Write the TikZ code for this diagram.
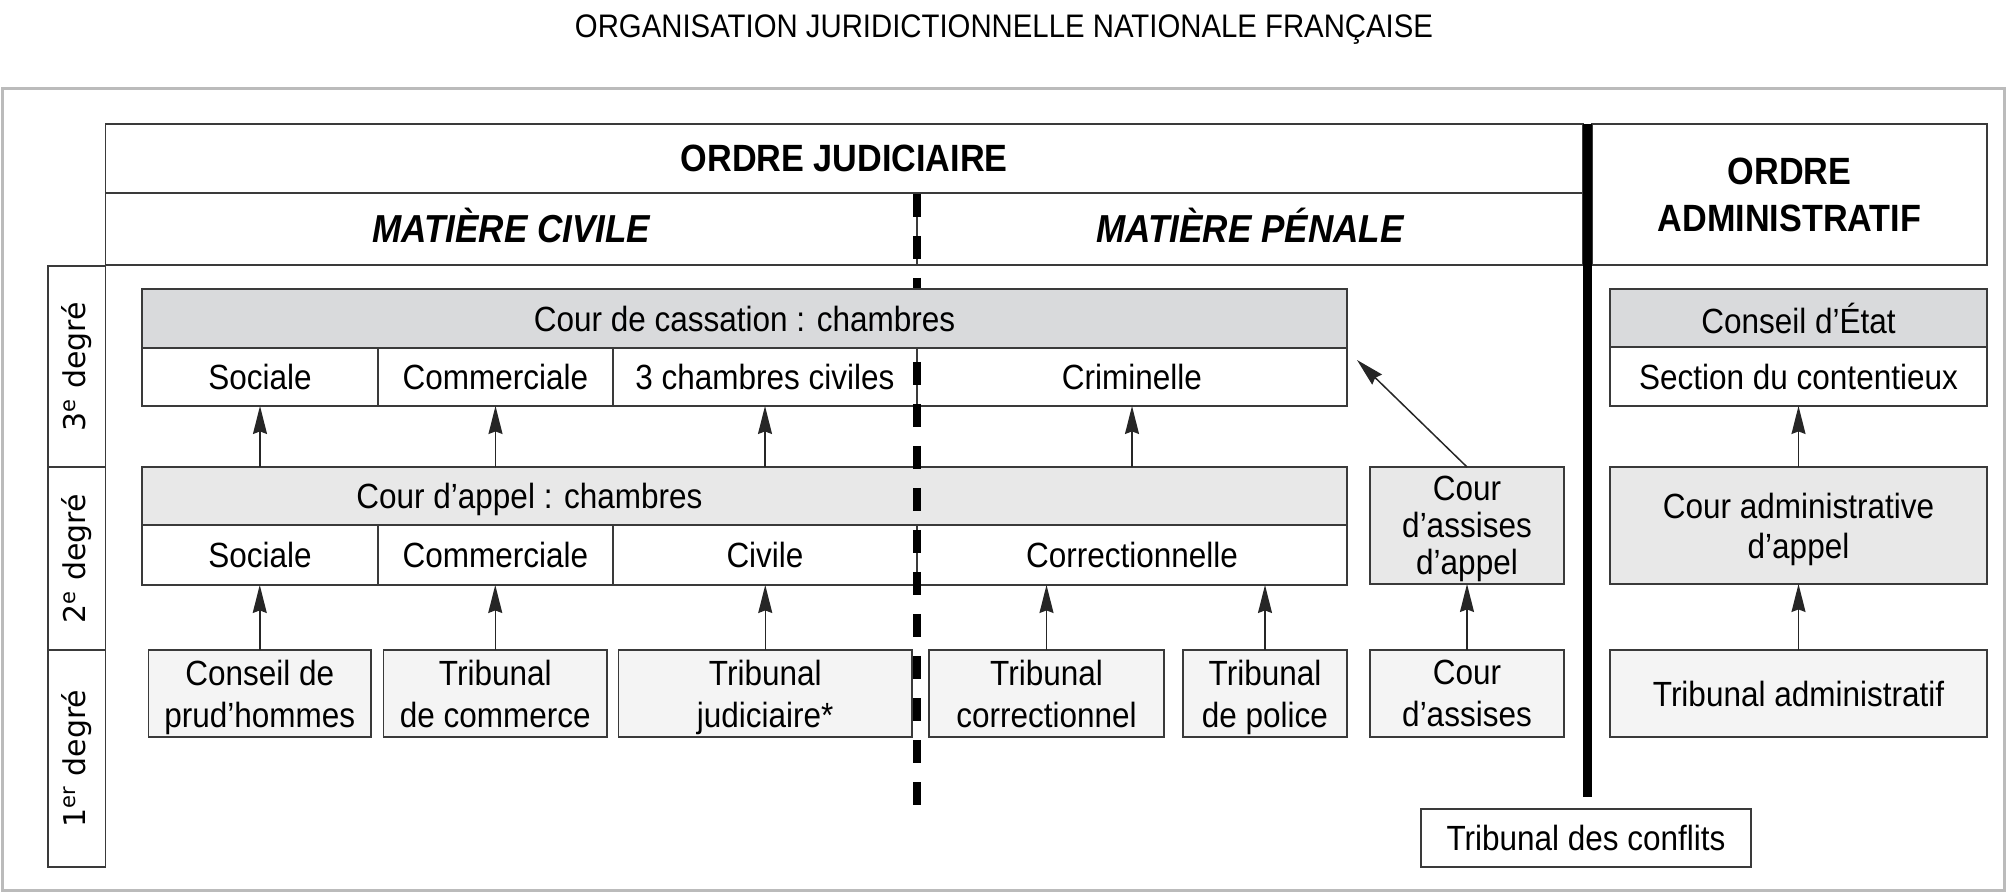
\documentclass[tikz,border=0pt]{standalone}
\usepackage{fontspec}
\setmainfont{Liberation Sans}[FakeStretch=0.9]
\newfontfamily\degfont{DejaVu Sans}
\usetikzlibrary{arrows.meta}
\definecolor{framecol}{HTML}{BBBBBB}
\definecolor{edgecol}{HTML}{3A3A3A}
\definecolor{gA}{HTML}{D9DADC}
\definecolor{gB}{HTML}{E8E8E8}
\definecolor{gC}{HTML}{F4F4F4}
\newcommand\bx[7]{\node[#6, minimum width={(#4-#2)*0.5pt}, minimum height={(#5-#3)*0.5pt}] (#1) at ({(#2+#4)/2},{(#3+#5)/2}) {#7};}
\begin{document}
\begin{tikzpicture}[x=0.5pt,y=-0.5pt,
  cell/.style={draw=edgecol, line width=0.7pt, inner sep=0pt, outer sep=0pt, align=center, text depth=0pt, font=\fontsize{17.5}{21}\selectfont},
  headA/.style={cell, fill=gA},
  headB/.style={cell, fill=gB},
  first/.style={cell, fill=gC},
  white/.style={cell, fill=white},
  hdr/.style={draw=edgecol, line width=0.7pt, inner sep=0pt, outer sep=0pt, align=center, font=\fontsize{19}{23.5}\selectfont\bfseries},
  hdri/.style={hdr, text height=14pt, text depth=0pt, font=\fontsize{19.5}{23.5}\selectfont\bfseries\itshape},
  deg/.style={draw=edgecol, line width=0.8pt, inner sep=0pt, outer sep=0pt},
  degtxt/.style={rotate=90, font=\degfont\fontsize{15}{17}\selectfont},
  lbl/.style={inner sep=0pt, text depth=0pt, font=\fontsize{17.5}{21}\selectfont},
  arr/.style={draw=black!85, line width=0.75pt, -{Stealth[length=14pt,width=7pt,inset=1.3pt]}},
]
\useasboundingbox (0,0) rectangle (2008,892);
\draw[framecol, line width=1.5pt] (2,89) rectangle (2004,890);

\node[font=\fontsize{16.3}{19}\selectfont] (title) at (1004,30) {ORGANISATION JURIDICTIONNELLE NATIONALE FRANÇAISE};

% headers
\bx{ojud}{105.6}{124}{1583}{193}{hdr}{ORDRE JUDICIAIRE}
\bx{civ}{105.6}{193}{917}{265}{hdri}{MATIÈRE CIVILE}
\bx{pen}{917}{193}{1583}{265}{hdri}{MATIÈRE PÉNALE}
\bx{oadm}{1592}{124}{1987}{265}{hdr}{ORDRE\\ADMINISTRATIF}

% degree column
\bx{d3}{48}{266}{105.6}{467}{deg}{}
\bx{d2}{48}{467}{105.6}{650}{deg}{}
\bx{d1}{48}{650}{105.6}{867}{deg}{}
\node[degtxt] (d3t) at (d3) {3\textsuperscript{e} degré};
\node[degtxt] (d2t) at (d2) {2\textsuperscript{e} degré};
\node[degtxt] (d1t) at (d1) {1\textsuperscript{er} degré};

% cells of Cour de cassation
\bx{cSoc}{142}{348}{378}{406}{white}{Sociale}
\bx{cCom}{378}{348}{613}{406}{white}{Commerciale}
\bx{cCiv}{613}{348}{917}{406}{white}{3 chambres civiles}
\bx{cCrim}{917}{348}{1347}{406}{white}{Criminelle}

% Cour d'appel
\bx{app}{142}{467}{1347}{525}{headB}{}
\node[lbl] (appTxt) at (529.5,496) {Cour d’appel : chambres};
\bx{aSoc}{142}{525}{378}{585}{white}{Sociale}
\bx{aCom}{378}{525}{613}{585}{white}{Commerciale}
\bx{aCiv}{613}{525}{917}{585}{white}{Civile}
\bx{aCor}{917}{525}{1347}{585}{white}{Correctionnelle}
\bx{assApp}{1370}{467}{1564}{584}{headB, font=\fontsize{17.5}{18.5}\selectfont}{Cour\\d’assises\\d’appel}

% Ordre administratif
\bx{ce}{1610}{289}{1987}{347}{headA}{Conseil d’État}
\bx{sec}{1610}{347}{1987}{406}{white}{Section du contentieux}
\bx{caa}{1610}{467}{1987}{584}{headB, font=\fontsize{17.5}{20}\selectfont}{Cour administrative\\d’appel}

% first degree
\bx{cph}{148.5}{650}{371}{737}{first}{Conseil de\\prud’hommes}
\bx{tc}{383.5}{650}{607}{737}{first}{Tribunal\\de commerce}
\bx{tj}{618.5}{650}{912}{737}{first}{Tribunal\\judiciaire*}
\bx{tcor}{929}{650}{1164}{737}{first}{Tribunal\\correctionnel}
\bx{tpol}{1183}{650}{1347}{737}{first}{Tribunal\\de police}
\bx{ass}{1370}{650}{1564}{737}{first}{Cour\\d’assises}
\bx{tadm}{1610}{650}{1987}{737}{first}{Tribunal administratif}

\bx{tconf}{1421}{809}{1751}{867}{white}{Tribunal des conflits}

% separators
\coordinate (dashTop) at (917,194);
\coordinate (dashBot) at (917,805);
\coordinate (thickTop) at (1587.5,124);
\coordinate (thickBot) at (1587.5,797);
\draw[black, line width=4pt, dash pattern=on 11.5pt off 9.5pt] (dashTop) -- (dashBot);
\draw[black, line width=4.5pt] (thickTop) -- (thickBot);

% Cour de cassation header, drawn over the dashed line
\bx{cass}{142}{289}{1347}{348}{headA}{Cour de cassation : chambres}

% arrows
\draw[arr] (cph.north) -- (cph.north |- aSoc.south);
\draw[arr] (tc.north) -- (tc.north |- aCom.south);
\draw[arr] (tj.north) -- (tj.north |- aCiv.south);
\draw[arr] (tcor.north) -- (tcor.north |- aCor.south);
\draw[arr] (tpol.north) -- (tpol.north |- aCor.south);
\draw[arr] (ass.north) -- (assApp.south);
\draw[arr] (tadm.north) -- (caa.south);

\draw[arr] (aSoc.center |- app.north) -- (cSoc.south);
\draw[arr] (aCom.center |- app.north) -- (cCom.south);
\draw[arr] (aCiv.center |- app.north) -- (cCiv.south);
\draw[arr] (cCrim.center |- app.north) -- (cCrim.south);
\draw[arr] (caa.north) -- (sec.south);
\coordinate (crimTip) at (1357,360);
\draw[arr] (assApp.north) -- (crimTip);
\end{tikzpicture}
\end{document}
